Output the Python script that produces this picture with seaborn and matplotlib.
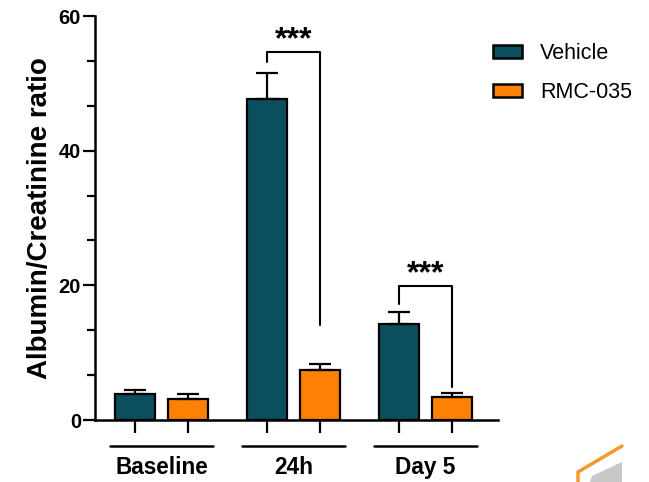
import matplotlib
matplotlib.use("Agg")
import matplotlib.pyplot as plt
import seaborn as sns
import pandas as pd
import numpy as np
from matplotlib.ticker import AutoMinorLocator, FixedLocator
from matplotlib.lines import Line2D
from matplotlib.patches import Polygon

groups = ["Baseline", "24h", "Day 5"]
treatments = ["Vehicle", "RMC-035"]
vehicle_mean = [3.9, 47.6, 14.3]
vehicle_err = [0.6, 3.9, 1.7]
rmc_mean = [3.1, 7.5, 3.4]
rmc_err = [0.7, 0.8, 0.6]
colors = ["#0b4f5f", "#ff8104"]
y_label = "Albumin/Creatinine ratio"
y_ticks = [0, 20, 40, 60]
# significance brackets: group index, left-leg bottom, top, right-leg bottom
sig_group = [1, 2]
sig_left = [53.2, 17.3]
sig_top = [54.7, 19.9]
sig_right = [14.1, 4.9]
sig_text = ["***", "***"]

sns.set_theme(style="ticks")
plt.rcParams["font.family"] = ["Liberation Sans", "DejaVu Sans"]
for k in ["text.color", "axes.labelcolor", "xtick.color", "ytick.color",
          "axes.edgecolor"]:
    plt.rcParams[k] = "black"

df = pd.DataFrame({
    "group": groups * 2,
    "treatment": [treatments[0]] * 3 + [treatments[1]] * 3,
    "value": vehicle_mean + rmc_mean,
    "err": vehicle_err + rmc_err,
})

fig = plt.figure(figsize=(6.49, 4.82), dpi=100)
ax = fig.add_axes([95 / 649, 62 / 482, 403 / 649, 404 / 482])

sns.barplot(data=df, x="group", y="value", hue="treatment", order=groups,
            hue_order=treatments, palette=colors, width=0.8, gap=0.25,
            errorbar=None, edgecolor="black", linewidth=1.6, saturation=1,
            ax=ax)

# error bars (upper only)
bar_containers = list(ax.containers)
centers = {}
for ti, cont in enumerate(bar_containers):
    errs = vehicle_err if ti == 0 else rmc_err
    for gi, p in enumerate(cont.patches):
        xc = p.get_x() + p.get_width() / 2
        h = p.get_height()
        centers[(gi, ti)] = (xc, h)
        ax.errorbar([xc], [h], yerr=[[0], [errs[gi]]], fmt="none",
                    ecolor="black", elinewidth=1.6, capsize=7.8,
                    capthick=1.6, zorder=1)

ax.set_xlim(-0.505, 2.55)
ax.set_ylim(0, 60)
ax.set_yticks(y_ticks)
ax.yaxis.set_minor_locator(AutoMinorLocator(3))
ax.tick_params(axis="y", which="major", length=9, width=1.6, labelsize=14.5, pad=1)
ax.tick_params(axis="y", which="minor", length=6, width=1.6)
for lab in ax.get_yticklabels():
    lab.set_fontweight("bold")

# x ticks at each bar
bar_x = sorted(c[0] for c in centers.values())
ax.xaxis.set_major_locator(FixedLocator(bar_x))
ax.set_xticklabels([""] * len(bar_x))
ax.tick_params(axis="x", which="major", length=9, width=1.6)

ax.set_xlabel("")
ax.set_ylabel(y_label, fontsize=20, fontweight="bold", labelpad=4)

for s in ["top", "right"]:
    ax.spines[s].set_visible(False)
for s in ["left", "bottom"]:
    ax.spines[s].set_linewidth(1.8)
    ax.spines[s].set_color("black")

# group lines and labels under the axis
trans = ax.get_xaxis_transform()
for gi, g in enumerate(groups):
    ax.plot([gi - 0.39, gi + 0.39], [-0.064, -0.064], color="black",
            lw=1.8, transform=trans, clip_on=False)
    ax.text(gi, -0.118, g, transform=trans, ha="center", va="center",
            fontsize=16.3, fontweight="bold")

# significance brackets
for gi, yl, yt, yr, t in zip(sig_group, sig_left, sig_top, sig_right, sig_text):
    xl = centers[(gi, 0)][0]
    xr = centers[(gi, 1)][0]
    ax.plot([xl, xl, xr, xr], [yl, yt, yt, yr], color="black", lw=1.5,
            clip_on=False)
    ax.text((xl + xr) / 2, yt - 0.5, t, ha="center", va="bottom",
            fontsize=23, fontweight="bold")

# legend
handles, labels = ax.get_legend_handles_labels()
for h in handles:
    h.set_edgecolor("black")
    h.set_linewidth(1.8)
ax.legend(handles, labels, loc="upper left",
          bbox_to_anchor=(493 / 649, 1 - 43 / 482), bbox_transform=fig.transFigure,
          frameon=False, fontsize=15.5, handlelength=1.35, handleheight=0.55,
          handletextpad=0.85, labelspacing=0.85, borderaxespad=0, borderpad=0)

# decorative corner fragment
fig.add_artist(Line2D([578 / 649, 578 / 649, 622 / 649],
                      [0, 1 - 472 / 482, 1 - 446 / 482],
                      transform=fig.transFigure, color="#f39a2b", lw=2.5))
fig.add_artist(Polygon([[590 / 649, 0], [592 / 649, 1 - 476 / 482],
                        [622 / 649, 1 - 462 / 482], [622 / 649, 0]], closed=True,
                       transform=fig.transFigure, color="#c8c8c8", lw=0))

fig.savefig("out.png", dpi=100)
